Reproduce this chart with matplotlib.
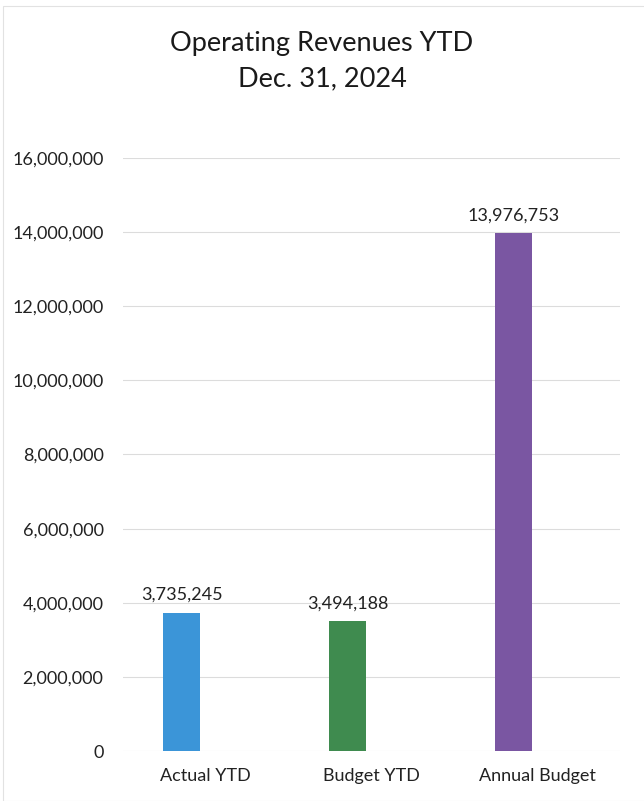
import matplotlib.pyplot as plt
from matplotlib.ticker import FuncFormatter
from matplotlib.patches import Rectangle
import numpy as np

# chart data
categories = ['Actual YTD', 'Budget YTD', 'Annual Budget']
revenues = [3735245, 3494188, 13976753]
bar_colors = ['#3b95d8', '#3f8b4f', '#7a56a2']
y_ticks = [0, 2000000, 4000000, 6000000, 8000000, 10000000, 12000000, 14000000, 16000000]

plt.rcParams['font.family'] = ['Lato', 'DejaVu Sans']

fig = plt.figure(figsize=(6.44, 8.01), dpi=100)
ax = fig.add_axes([123 / 644, 1 - 751 / 801, (620 - 123) / 644, (751 - 158) / 801])

x = np.arange(len(categories))
bar_x = x - 0.145
bars = ax.bar(bar_x, revenues, width=0.225, color=bar_colors, zorder=3)

for b, v in zip(bars, revenues):
    ax.annotate(f'{v:,}', (b.get_x() + b.get_width() / 2, v), xytext=(0, 7),
                textcoords='offset points', ha='center', va='bottom', fontsize=13, color='#222222')

ax.set_xlim(-0.5, 2.5)
ax.set_ylim(0, 16000000)
ax.set_yticks(y_ticks)
ax.yaxis.set_major_formatter(FuncFormatter(lambda v, p: f'{int(v):,}'))
ax.set_xticks(x)
ax.set_xticklabels(categories)
ax.tick_params(axis='both', length=0, labelsize=13, colors='#222222')
ax.tick_params(axis='y', pad=14)
ax.tick_params(axis='x', pad=12)
ax.grid(axis='y', color='#dcdcdc', linewidth=0.8, zorder=0)
for s in ax.spines.values():
    s.set_visible(False)

fig.text(0.5, 1 - 43 / 801, 'Operating Revenues YTD', ha='center', va='center', fontsize=19.5, color='#1a1a1a')
fig.text(0.5, 1 - 79 / 801, 'Dec. 31, 2024', ha='center', va='center', fontsize=19.5, color='#1a1a1a')

# faint chart-area border
fig.patches.append(Rectangle((3 / 644, 0), 1, 1 - 6 / 801, transform=fig.transFigure,
                             fill=False, edgecolor='#e2e2e2', linewidth=0.8))

fig.savefig('out.png', dpi=100)
